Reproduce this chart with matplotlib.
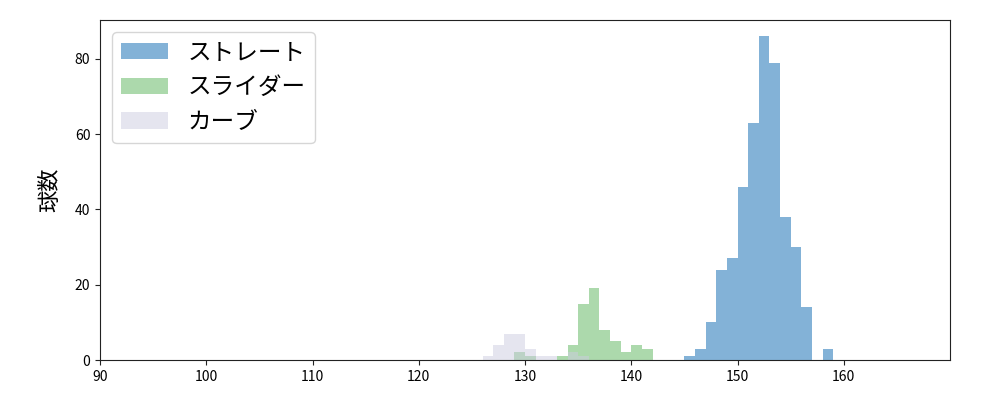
import matplotlib
matplotlib.use("Agg")
import matplotlib.pyplot as plt

plt.rcParams['font.family'] = ['Noto Sans CJK JP', 'DejaVu Sans']

# bin left edges (km/h) and pitch counts
straight_bins = [145, 146, 147, 148, 149, 150, 151, 152, 153, 154, 155, 156, 157, 158]
straight_counts = [1, 3, 10, 24, 27, 46, 63, 86, 79, 38, 30, 14, 0, 3]

slider_bins = [129, 130, 131, 132, 133, 134, 135, 136, 137, 138, 139, 140, 141]
slider_counts = [2, 1, 0, 0, 1, 4, 15, 19, 8, 5, 2, 4, 3]

curve_bins = [126, 127, 128, 129, 130, 131, 132, 133, 134, 135]
curve_counts = [1, 4, 7, 7, 3, 1, 1, 0, 2, 1]

labels = ['ストレート', 'スライダー', 'カーブ']

fig, ax = plt.subplots(figsize=(10, 4), dpi=100)
fig.subplots_adjust(left=0.1, right=0.95, top=0.95, bottom=0.1)

ax.bar(straight_bins, straight_counts, width=1, align='edge', color='#0967b1', alpha=0.5, label=labels[0])
ax.bar(slider_bins, slider_counts, width=1, align='edge', color='#5bb55b', alpha=0.5, label=labels[1])
ax.bar(curve_bins, curve_counts, width=1, align='edge', color='#cdcde1', alpha=0.5, label=labels[2])

for s in ax.spines.values():
    s.set_color('#222222')
ax.tick_params(color='#222222')

ax.set_xlim(90, 170)
ax.set_ylim(0, 90.3)
ax.set_xticks(range(90, 170, 10))
ax.set_yticks(range(0, 81, 20))
ax.set_ylabel('球数', fontsize=16, labelpad=10)
ax.legend(loc='upper left', fontsize=17)

plt.savefig('out.png')
